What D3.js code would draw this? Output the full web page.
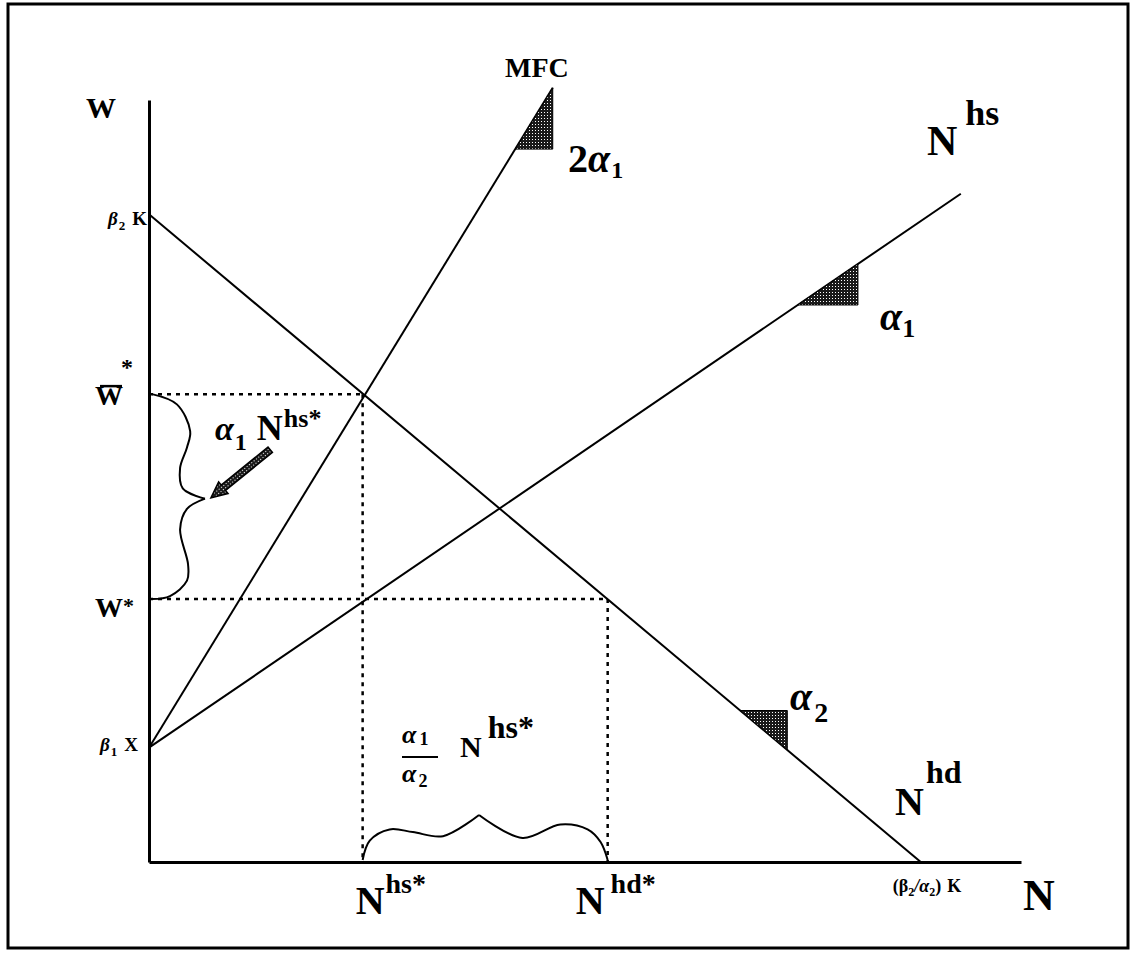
<!DOCTYPE html>
<html>
<head>
<meta charset="UTF-8">
<title>Monopsony wage diagram</title>
<script src="https://d3js.org/d3.v7.min.js"></script>
<style>
  body { margin: 0; background: #fff; }
  text { font-family: "Liberation Serif", "Times New Roman", serif; font-weight: bold; fill: #000; }
</style>
</head>
<body>
<div id="chart"></div>
<script>
// lines in (N, W) units
const nhdLine = [[0, 85], [88.5, 0]];
const nhsLine = [[0, 15], [93.1, 87.7]];
const mfcLine = [[0, 15], [46.3, 101.6]];
// equilibrium values
const wStar = 34.5, wBarStar = 61.4;
const nhsStar = 24.5, nhdStar = 52.6;
const yIntercepts = [85, 15];     // beta2 K, beta1 X
const xIntercept = 88.5;          // (beta2/alpha2) K
// slope marker ranges along each line
const slopeMarks = [
  { line: mfcLine, x0: 42.0, x1: 46.3 },
  { line: nhsLine, x0: 74.4, x1: 81.3 },
  { line: nhdLine, x0: 67.8, x1: 73.2 }
];
const arrowFrom = [13.9, 54.1], arrowTo = [7.1, 47.8];

// hand-drawn brace profiles: [position along span 0..1, depth 0..1]
const braceLeftA = [[0, 0], [0.05, 0.47], [0.18, 0.72], [0.26, 0.66], [0.36, 0.53], [0.46, 0.58], [0.51, 1]];
const braceLeftB = [[0.51, 1], [0.56, 0.66], [0.66, 0.53], [0.83, 0.68], [0.91, 0.66], [0.985, 0.34], [1, 0]];
const braceBottomA = [[0, 0], [0.029, 0.43], [0.11, 0.68], [0.205, 0.62], [0.328, 0.53], [0.475, 1]];
const braceBottomB = [[0.475, 1], [0.652, 0.49], [0.807, 0.79], [0.918, 0.68], [0.971, 0.40], [1, 0]];

const W = 1131, H = 962;
const x = d3.scaleLinear().domain([0, 100]).range([149, 1021]);
const y = d3.scaleLinear().domain([0, 100]).range([862, 100]);

const svg = d3.select("#chart").append("svg")
  .attr("width", W).attr("height", H);

const defs = svg.append("defs");
const pat = defs.append("pattern").attr("id", "dots")
  .attr("width", 3).attr("height", 3).attr("patternUnits", "userSpaceOnUse");
pat.append("rect").attr("width", 3).attr("height", 3).attr("fill", "#1a1a1a");
pat.append("rect").attr("x", 1).attr("y", 1).attr("width", 1).attr("height", 1).attr("fill", "#fff");

// frame
svg.append("rect").attr("x", 8).attr("y", 4).attr("width", 1120).attr("height", 944)
  .attr("fill", "none").attr("stroke", "#000").attr("stroke-width", 3);

// axes
svg.append("g").attr("transform", `translate(0,${y(0)})`)
  .call(d3.axisBottom(x).tickValues([]).tickSizeOuter(0))
  .select(".domain").attr("stroke-width", 3);
svg.append("g").attr("transform", `translate(${x(0)},0)`)
  .call(d3.axisLeft(y).tickValues([]).tickSizeOuter(0))
  .select(".domain").attr("stroke-width", 3);

const line = d3.line().x(d => x(d[0])).y(d => y(d[1]));
[nhdLine, nhsLine, mfcLine].forEach(l => {
  svg.append("path").attr("d", line(l)).attr("fill", "none")
    .attr("stroke", "#000").attr("stroke-width", 2);
});

// dotted guides
const dotted = [
  [[0, wBarStar], [nhsStar, wBarStar]],
  [[nhsStar, wBarStar], [nhsStar, 0]],
  [[0, wStar], [nhdStar, wStar]],
  [[nhdStar, wStar], [nhdStar, 0]]
];
dotted.forEach(l => {
  svg.append("path").attr("d", line(l)).attr("fill", "none")
    .attr("stroke", "#000").attr("stroke-width", 2.5).attr("stroke-dasharray", "4,5");
});

// slope triangles
function at(l, xv) {
  const [a, b] = l;
  return a[1] + (b[1] - a[1]) * (xv - a[0]) / (b[0] - a[0]);
}
slopeMarks.forEach(m => {
  const pts = [[m.x0, at(m.line, m.x0)], [m.x1, at(m.line, m.x0)], [m.x1, at(m.line, m.x1)]];
  svg.append("path").attr("d", line(pts) + "Z")
    .attr("fill", "url(#dots)").attr("stroke", "#000").attr("stroke-width", 1);
});

// curly braces
const curve = d3.line().curve(d3.curveCatmullRom.alpha(0.5));
function drawBrace(profile, toPx) {
  svg.append("path").attr("d", curve(profile.map(toPx)))
    .attr("fill", "none").attr("stroke", "#000").attr("stroke-width", 2);
}
const leftPx = p => [x(0) + 3 + p[1] * 53, y(wBarStar) + p[0] * (y(wStar) - y(wBarStar))];
const bottomPx = p => [x(nhsStar) + p[0] * (x(nhdStar) - x(nhsStar)), y(0) - 2 - p[1] * 45];
drawBrace(braceLeftA, leftPx);
drawBrace(braceLeftB, leftPx);
drawBrace(braceBottomA, bottomPx);
drawBrace(braceBottomB, bottomPx);

// arrow
(function () {
  const x0 = x(arrowFrom[0]), y0 = y(arrowFrom[1]);
  const x1 = x(arrowTo[0]), y1 = y(arrowTo[1]);
  const L = Math.hypot(x1 - x0, y1 - y0);
  const ang = Math.atan2(y1 - y0, x1 - x0) * 180 / Math.PI;
  const pts = [[0, -3.5], [L - 16, -3.5], [L - 16, -7.5], [L, 0], [L - 16, 7.5], [L - 16, 3.5], [0, 3.5]];
  svg.append("polygon").attr("points", pts.map(p => p.join(",")).join(" "))
    .attr("transform", `translate(${x0},${y0}) rotate(${ang})`)
    .attr("fill", "url(#dots)").attr("stroke", "#000").attr("stroke-width", 1.5);
})();

// rich text: parts = [text, size, baselineOffset, dx, italic]
function rich(px, py, anchor, parts) {
  const t = svg.append("text").attr("x", px).attr("y", py).attr("text-anchor", anchor);
  let cur = 0;
  parts.forEach(p => {
    const b = p[2] || 0;
    const ts = t.append("tspan").attr("font-size", p[1]).attr("dy", b - cur).attr("dx", p[3] || 0).text(p[0]);
    if (p[4]) ts.attr("font-style", "italic");
    cur = b;
  });
  return t;
}

// y-axis labels
rich(86, 118, "start", [["W", 30]]);
rich(x(0) - 2, y(yIntercepts[0]) + 11, "end", [["β", 19, 0, 0, 1], ["2", 13, 5, 1], ["K", 19, 0, 7]]);
rich(x(0) - 26, y(wBarStar) + 11, "end", [["W", 28]]);
svg.append("line").attr("x1", 100).attr("x2", 122).attr("y1", y(wBarStar) - 8).attr("y2", y(wBarStar) - 8)
  .attr("stroke", "#000").attr("stroke-width", 2.5);
rich(121, y(wBarStar) - 19, "start", [["*", 24]]);
rich(x(0) - 26, y(wStar) + 18, "end", [["W", 28]]);
rich(123, y(wStar) + 14, "start", [["*", 22]]);
rich(x(0) - 11, y(yIntercepts[1]) + 3, "end", [["β", 19, 0, 0, 1], ["1", 13, 5, 1], ["X", 19, 0, 7]]);

// x-axis labels
rich(x(nhsStar) - 7, 914, "start", [["N", 40], ["hs*", 28, -21, 1]]);
rich(x(nhdStar) - 32, 914, "start", [["N", 40], ["hd*", 28, -21, 6]]);
rich(x(xIntercept) - 28, 892, "start", [["(β", 18], ["2", 12, 4], ["/α", 18, 0, 0, 1], ["2", 12, 4], [")", 18], ["K", 18, 0, 6]]);
rich(1023, 910, "start", [["N", 44]]);

// line labels
rich(505, 77, "start", [["MFC", 28]]);
rich(568, 172, "start", [["2", 40], ["α", 40, 0, 0, 1], ["1", 24, 6, 1]]);
rich(927, 155, "start", [["N", 42], ["hs", 36, -30, 8]]);
rich(880, 330, "start", [["α", 40, 0, 0, 1], ["1", 26, 7]]);
rich(790, 710, "start", [["α", 40, 0, 0, 1], ["2", 28, 12, 2]]);
rich(895, 815, "start", [["N", 40], ["hd", 32, -32, 2]]);

// annotations
rich(215, 440, "start", [["α", 34, 0, 0, 1], ["1", 24, 10, 1], ["N", 36, 0, 10], ["hs*", 26, -13, 1]]);
rich(402, 743, "start", [["α", 26, 0, 0, 1], ["1", 18, 2, 3]]);
svg.append("line").attr("x1", 402).attr("x2", 438).attr("y1", 757).attr("y2", 757)
  .attr("stroke", "#000").attr("stroke-width", 2);
rich(402, 782, "start", [["α", 26, 0, 0, 1], ["2", 18, 5, 2]]);
rich(460, 757, "start", [["N", 30], ["hs*", 32, -19, 6]]);
</script>
</body>
</html>
